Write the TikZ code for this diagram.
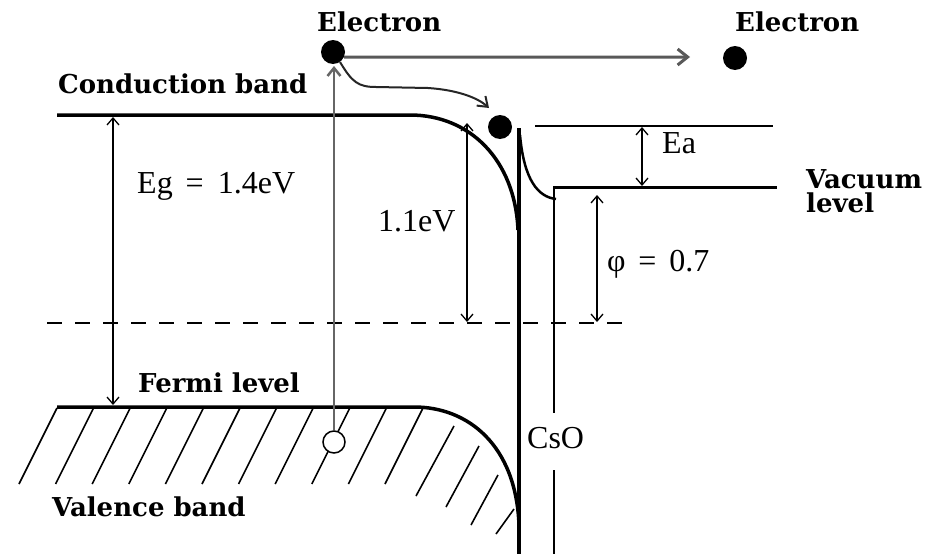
\documentclass[tikz,border=0pt]{standalone}
\usepackage{fontspec}
\setmainfont{Liberation Serif}
\newfontfamily\labfont{DejaVu Serif}
\usetikzlibrary{arrows.meta}
\begin{document}
\begin{tikzpicture}[x=1pt,y=-1pt,
  band/.style={line width=3.5pt},
  barb/.style={Straight Barb[length=7pt,width=12pt]},
  dim/.style={line width=1.3pt,{Straight Barb[length=7pt,width=12pt]}-{Straight Barb[length=7pt,width=12pt]}},
  lab/.style={inner sep=0pt,anchor=base west,font=\fontsize{32}{34}\selectfont},
  blab/.style={inner sep=0pt,anchor=base west,font=\labfont\bfseries\fontsize{26}{26}\selectfont},
  edot/.style={circle,fill=black,inner sep=0pt,minimum size=24pt},
  hatchline/.style={line width=1.6pt}]
\useasboundingbox (0,0) rectangle (927,554);
\fill[white] (0,0) rectangle (927,554);

% hatching of valence band
\foreach \k in {0,...,10}{
  \draw[hatchline] ({57+36.6*\k},408) -- ({19+36.6*\k},484);
}
\draw[hatchline] (454,426) -- (416,496);
\draw[hatchline] (479,446) -- (446,507);
\draw[hatchline] (498,475) -- (471,525);
\draw[hatchline] (514,509) -- (496,534);

% bands
\draw[band] (57,115) -- (410,115) .. controls (470,115) and (515,160) .. (518,230);
\draw[band] (57,407) -- (414,407) .. controls (468,407) and (516,445) .. (519,525);
\draw[band] (519,128) -- (519,554);
\draw[line width=2.5pt] (520,135) .. controls (524,180) and (538,197) .. (556,199);

% vacuum level
\draw[line width=1.5pt] (554,187) -- (554,413);
\draw[line width=1.5pt] (554,470) -- (554,554);
\draw[line width=3pt] (553,187) -- (777,187);
\draw[line width=2pt] (535,126) -- (773,126);

% Fermi level
\draw[line width=1.6pt, dash pattern=on 15pt off 13pt] (47,323) -- (630,323);

% dimension arrows
\coordinate (egT) at (113,117); \coordinate (egB) at (113,405);
\coordinate (ovT) at (467,123); \coordinate (ovB) at (467,322);
\coordinate (eaT) at (642,127); \coordinate (eaB) at (642,186);
\coordinate (phT) at (597,195); \coordinate (phB) at (597,322);
\draw[dim] (egT) -- (egB);
\draw[dim] (ovT) -- (ovB);
\draw[dim] (eaT) -- (eaB);
\draw[dim] (phT) -- (phB);

% electrons and hole
\node[edot] (e1) at (333,52) {};
\node[edot] (e2) at (735,58) {};
\node[edot] (e3) at (500,127) {};
\node[circle,draw,line width=1.5pt,fill=white,inner sep=0pt,minimum size=22pt] (hole) at (334,442) {};
\coordinate (exT) at (334,66);
\draw[line width=2.5pt,color=black!60,-{Straight Barb[length=8pt,width=13pt]}] (hole.north) -- (exT);
\coordinate (hT) at (690,57);
\draw[line width=3pt,color=black!65,-{Straight Barb[length=10pt,width=16pt]}] (e1.-25) -- (hT);
\coordinate (cT) at (489,108);
\draw[line width=2pt,color=black!85,-{Straight Barb[length=9pt,width=13pt]}] (e1.-55) .. controls (352,82) and (358,87) .. (376,87) -- (428,88) .. controls (458,90) and (478,98) .. (cT);

% labels
\node[blab] (l1) at (317,31) {Electron};
\node[blab] (l2) at (735,31) {Electron};
\node[blab] (l3) at (58,93) {Conduction band};
\node[blab] (l4) at (138,392) {Fermi level};
\node[blab] (l5) at (52,516) {Valence band};
\node[blab] (l6) at (806,188) {Vacuum};
\node[blab] (l7) at (806,212) {level};
\node[lab] (t1) at (137,193) {Eg\hspace{0.4em}=\hspace{0.45em}1.4eV};
\node[lab] (t2) at (378,231) {1.1eV};
\node[lab] (t3) at (662,153) {Ea};
\node[lab] (t4) at (607,271) {φ\hspace{0.4em}=\hspace{0.4em}0.7};
\node[lab] (t5) at (527,448) {CsO};
\end{tikzpicture}
\end{document}
